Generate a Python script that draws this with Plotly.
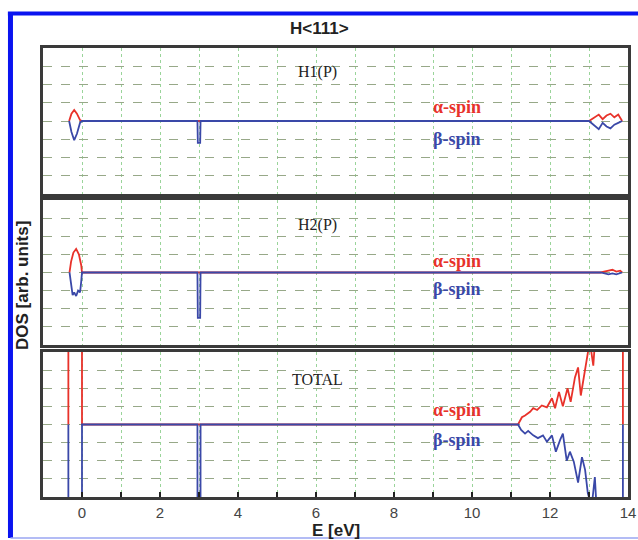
import plotly.graph_objects as go

# ---------------- data ----------------
# H1(P) panel
h1_alpha_E = [-0.33, -0.27, -0.2, -0.13, -0.05, 0.0, 13.0, 13.15, 13.25, 13.35, 13.45, 13.55, 13.65, 13.75, 13.85]
h1_alpha_D = [0.0, 0.4, 0.6, 0.4, 0.05, 0.0, 0.0, 0.2, 0.35, 0.1, 0.3, 0.4, 0.2, 0.35, 0.0]
h1_beta_E = [-0.33, -0.27, -0.2, -0.13, -0.05, 0.0, 2.96, 2.97, 3.03, 3.04, 13.0, 13.15, 13.25, 13.35, 13.45, 13.55, 13.65, 13.75, 13.85]
h1_beta_D = [0.0, -0.6, -1.05, -0.7, -0.1, 0.0, 0.0, -1.2, -1.2, 0.0, 0.0, -0.3, -0.45, -0.1, -0.3, -0.4, -0.2, -0.1, 0.0]

# H2(P) panel
h2_alpha_E = [-0.32, -0.28, -0.22, -0.15, -0.08, -0.02, 0.0, 13.3, 13.5, 13.6, 13.7, 13.8, 13.85]
h2_alpha_D = [0.0, 0.6, 1.1, 1.3, 1.0, 0.4, 0.0, 0.0, 0.1, 0.15, 0.05, 0.1, 0.0]
h2_beta_E = [-0.32, -0.28, -0.24, -0.2, -0.15, -0.1, -0.05, -0.02, 0.0, 2.96, 2.97, 3.03, 3.04, 13.3, 13.5, 13.6, 13.7, 13.85]
h2_beta_D = [0.0, -0.6, -1.25, -1.1, -1.3, -1.0, -1.1, -0.5, 0.0, 0.0, -2.5, -2.5, 0.0, 0.0, -0.1, -0.05, -0.1, 0.0]

# TOTAL panel
tot_alpha_E = [-0.35, -0.345, -0.005, 0.0, 11.18, 11.28, 11.36, 11.49, 11.57, 11.67, 11.79, 11.92, 12.05,
               12.13, 12.23, 12.33, 12.45, 12.53, 12.64, 12.72, 12.79, 12.90, 12.98, 13.02, 13.11, 13.2,
               13.86, 13.87]
tot_alpha_D = [0.0, 50.0, 50.0, 0.0, 0.0, 0.4, 0.5, 0.7, 0.9, 0.8, 1.05, 0.95, 1.45,
               0.9, 1.8, 1.0, 2.0, 1.25, 2.6, 3.15, 1.6, 2.9, 3.8, 4.6, 3.25, 6.0,
               50.0, 0.0]
tot_beta_E = [-0.35, -0.345, -0.005, 0.0, 2.96, 2.97, 3.03, 3.04, 11.18, 11.26, 11.36, 11.44, 11.57,
              11.69, 11.82, 11.92, 12.05, 12.15, 12.26, 12.33, 12.43, 12.51, 12.61, 12.72, 12.82,
              12.90, 12.97, 13.07, 13.15, 13.23, 13.86, 13.87]
tot_beta_D = [0.0, -50.0, -50.0, 0.0, 0.0, -50.0, -50.0, 0.0, 0.0, -0.3, -0.5, -0.35, -0.6,
              -0.75, -0.6, -0.95, -0.6, -1.5, -0.85, -0.5, -2.0, -1.5, -2.05, -3.2, -1.8,
              -2.5, -3.8, -4.5, -2.9, -6.0, -50.0, 0.0]

panel_names = ["H1(P)", "H2(P)", "TOTAL"]
x_tick_vals = [0, 2, 4, 6, 8, 10, 12, 14]
x_tick_text = ["0", "2", "4", "6", "8", "10", "12", "14"]

RED = "#e8322a"
BLUE = "#3a48a8"

fig = go.Figure()

series = [
    (h1_alpha_E, h1_alpha_D, h1_beta_E, h1_beta_D, "x", "y"),
    (h2_alpha_E, h2_alpha_D, h2_beta_E, h2_beta_D, "x2", "y2"),
    (tot_alpha_E, tot_alpha_D, tot_beta_E, tot_beta_D, "x3", "y3"),
]
for aE, aD, bE, bD, xa, ya in series:
    fig.add_trace(go.Scatter(x=aE, y=aD, mode="lines", line=dict(color=RED, width=1.8),
                             xaxis=xa, yaxis=ya, showlegend=False, hoverinfo="skip"))
    fig.add_trace(go.Scatter(x=bE, y=bD, mode="lines", line=dict(color=BLUE, width=1.8),
                             xaxis=xa, yaxis=ya, showlegend=False, hoverinfo="skip"))

GRIDV = "#9ad49a"
GRIDH = "#97a888"
FRAME = "#3a3a3a"

def xaxis_cfg(show_labels, anchor):
    return dict(
        range=[-1, 14], anchor=anchor, showline=True, mirror=True, linecolor=FRAME, linewidth=2.5,
        showgrid=True, gridcolor=GRIDV, griddash="dot", gridwidth=1,
        tickmode="array", tickvals=x_tick_vals if show_labels else [],
        ticktext=x_tick_text if show_labels else [],
        ticks="inside" if show_labels else "", ticklen=5, tickwidth=1.5, tickcolor="#222",
        minor=dict(dtick=1, tick0=0, showgrid=True, gridcolor=GRIDV, griddash="dot", gridwidth=1,
                   ticks="inside" if show_labels else "", ticklen=5, tickwidth=1.5, tickcolor="#222"),
        showticklabels=show_labels, zeroline=False, automargin=False,
        tickfont=dict(family="Liberation Sans, Arial, sans-serif", size=15, color="#444"),
    )

def yaxis_cfg(domain, anchor):
    return dict(
        domain=domain, anchor=anchor, range=[-4, 4], showline=True, mirror=True, linecolor=FRAME,
        linewidth=2.5, showgrid=True, gridcolor=GRIDH, griddash="dash", gridwidth=1,
        dtick=1, tick0=0, showticklabels=False, ticks="", zeroline=False, automargin=False,
    )

# pixel-derived domains: plot area x 43..628, y 48..497
fig.update_layout(
    width=638, height=540,
    margin=dict(l=43, r=10, t=48, b=43),
    paper_bgcolor="white", plot_bgcolor="white",
    xaxis=xaxis_cfg(False, "y"),
    xaxis2=xaxis_cfg(False, "y2"),
    xaxis3=xaxis_cfg(True, "y3"),
    yaxis=yaxis_cfg([0.6748, 1.0], "x"),
    yaxis2=yaxis_cfg([0.3385, 0.6615], "x2"),
    yaxis3=yaxis_cfg([0.0, 0.3229], "x3"),
)

serif = "Liberation Serif, Times New Roman, serif"
annos = []
label_pos = [  # (panel name y, alpha y, beta y)
    ("x", "y", 2.7, 0.77, -1.0),
    ("x2", "y2", 2.6, 0.66, -0.93),
    ("x3", "y3", 2.5, 0.8, -0.85),
]
for name, (xr, yr, ny, ay, by) in zip(panel_names, label_pos):
    annos.append(dict(x=6.05, y=ny, xref=xr, yref=yr, text=name, showarrow=False,
                      yanchor="middle", font=dict(family=serif, size=16, color="#222")))
    annos.append(dict(x=8.95, y=ay, xref=xr, yref=yr, text="<b>α-spin</b>", showarrow=False, xanchor="left",
                      yanchor="middle", font=dict(family=serif, size=18, color=RED)))
    annos.append(dict(x=8.95, y=by, xref=xr, yref=yr, text="<b>β-spin</b>", showarrow=False, xanchor="left",
                      yanchor="middle", font=dict(family=serif, size=18, color=BLUE)))

sans = "Liberation Sans, Arial, sans-serif"
annos.append(dict(x=0.472, y=1.0445, xref="paper", yref="paper", text="<b>H&lt;111&gt;</b>",
                  xanchor="center", yanchor="middle",
                  showarrow=False, font=dict(family=sans, size=17, color="#222")))
annos.append(dict(x=0.5, y=-0.0735, xref="paper", yref="paper", text="<b>E [eV]</b>",
                  xanchor="center", yanchor="middle",
                  showarrow=False, font=dict(family=sans, size=17, color="#222")))
annos.append(dict(x=-0.036, y=0.472, xref="paper", yref="paper", text="<b>DOS [arb. units]</b>",
                  xanchor="center", yanchor="middle",
                  textangle=-90, showarrow=False, font=dict(family=sans, size=17, color="#222")))
fig.update_layout(annotations=annos)

# outer blue frame
fig.add_shape(type="line", xref="paper", yref="paper", x0=-0.0556, x1=-0.0556, y0=-0.0913, y1=1.08,
              line=dict(color="#0a14f0", width=5))
fig.add_shape(type="line", xref="paper", yref="paper", x0=-0.06, x1=1.03, y0=1.0768, y1=1.0768,
              line=dict(color="#0a14f0", width=4))
fig.add_shape(type="line", xref="paper", yref="paper", x0=-0.0556, x1=1.03, y0=-0.0913, y1=-0.0913,
              line=dict(color="#9aa6f2", width=1.5))

fig.write_html("out.html", config={"displayModeBar": False},
               post_script="document.body.style.margin='0';document.body.style.overflow='hidden';")
